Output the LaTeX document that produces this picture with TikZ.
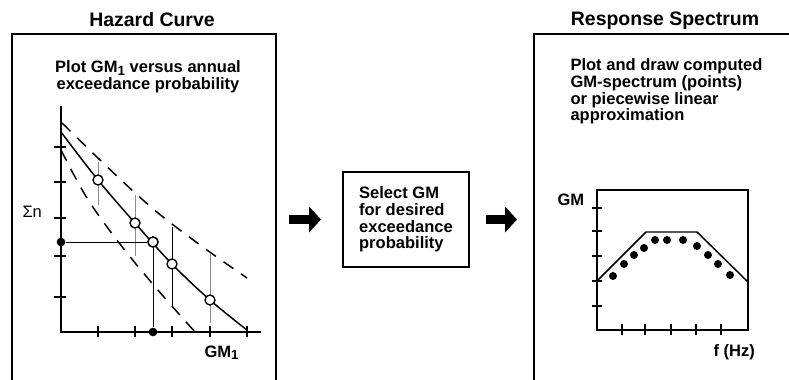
\documentclass[tikz,border=0pt]{standalone}
\usepackage{fontspec}
\setmainfont{Liberation Sans}
\usetikzlibrary{arrows.meta,fit}

\tikzset{every picture/.style={line width=0.75pt}}
\tikzset{
  panel/.style={draw, line width=1.5pt, inner sep=0pt},
  ttl/.style={font=\bfseries\fontsize{14.6}{16}\selectfont, inner sep=0pt, anchor=base},
  txt/.style={font=\bfseries\fontsize{12.4}{12.6}\selectfont, inner sep=0pt},
  axis/.style={line width=1.5pt},
  tick/.style={line width=1pt},
  hdash/.style={line width=1.1pt, dash pattern=on 9pt off 7pt},
  bar/.style={line width=0.75pt, draw=black!45},
  opn/.style={circle, draw, fill=white, line width=1pt, inner sep=0pt, minimum size=7.5pt},
  blk/.style={circle, fill=black, inner sep=0pt, minimum size=6.5pt},
  sdot/.style={circle, fill=black, inner sep=0pt, minimum size=6pt},
  fatarrow/.style={line width=6.75pt, -{Triangle[length=9pt,width=19pt]}},
}
\newcommand\lowsub[1]{\raisebox{-0.3ex}{\fontsize{10}{10}\selectfont#1}}

\begin{document}
\begin{tikzpicture}[x=0.75pt,y=0.75pt,yscale=-1,xscale=1]
\useasboundingbox (0,0) rectangle (789,379);
\clip (0,0) rectangle (789,379);

% panels
\node [panel, fit={(12,34) (276,420)}] (hz) {};
\node [panel, fit={(534,34) (820,420)}] (rs) {};
\node [ttl] (hztitle) at (152,26) {Hazard Curve};
\node [ttl] (rstitle) at (665,25) {Response Spectrum};

% hazard panel text
\node [txt, align=center, anchor=north] (hztext) at (148,60) {Plot GM\lowsub{1} versus annual\\exceedance probability};

%Axes
\draw [axis] (61,106) -- (61,332) -- (261,332) ;
\foreach \y in {147,182,218,256,297} \draw [tick] (54,\y) -- (66,\y) ;
\foreach \x in {98,135,172,210,247} \draw [tick] (\x,326) -- (\x,337) ;

%Error bars
\draw [bar] (98,162) -- (98,205) ;
\draw [bar] (135,195) -- (135,256) ;
\draw [bar, draw=black] (172,227) -- (172,307) ;
\draw [bar] (210,254) -- (210,323) ;

%Dashed bounds
\draw [hdash] plot [smooth, tension=0.6] coordinates {(62,123) (99,159) (133,191) (163,217) (207,250) (247,278)} ;
\draw [hdash] plot [smooth, tension=0.6] coordinates {(61,150) (87,198) (120,244) (157,289) (196,333)} ;

%Hazard curve
\draw [line width=1.1pt] plot [smooth, tension=0.6] coordinates {(61,132) (98,180) (135,223) (172,264) (210,300) (247,330)} ;

% points on the curve
\node [opn] (c1) at (98,180) {};
\node [opn] (c2) at (135,223) {};
\node [opn] (c3) at (153,242) {};
\node [opn] (c4) at (172,264) {};
\node [opn] (c5) at (210,300) {};
\node [blk] (ydot) at (61,242) {};
\node [blk] (xdot) at (153,332) {};
\draw (ydot) -- (c3) ;
\draw (c3) -- (xdot) ;
\node [opn] at (c3) {};

% Text Node
\node [anchor=base west, inner sep=0pt, font=\fontsize{12.4}{14}\selectfont] (sumn) at (22,217) {Σn};
\node [anchor=base west, inner sep=0pt, font=\bfseries\fontsize{12.4}{14}\selectfont] (gm1) at (204,357) {GM\lowsub{1}};

% selection box
\node [txt, draw, line width=1.5pt, align=left, minimum width=94.5pt, minimum height=71.25pt] (sel) at (406,219.5) {Select GM\\for desired\\exceedance\\probability};

% arrows between panels
\draw [fatarrow] ([xshift=9pt]hz.east |- sel.west) -- ([xshift=-15.75pt]sel.west) ;
\draw [fatarrow] ([xshift=12pt]sel.east) -- ([xshift=-12pt]rs.west |- sel.east) ;

% spectrum panel text
\node [txt, align=left, anchor=north west] (rstext) at (570,58) {Plot and draw computed\\GM-spectrum (points)\\or piecewise linear\\approximation};

% spectrum plot
\node [panel, fit={(597,190) (748,330)}] (spec) {};
\foreach \y in {208,231,256,281,306} \draw [tick] (592,\y) -- (602,\y) ;
\foreach \x in {622,645,671,696,721} \draw [tick] (\x,324) -- (\x,335) ;
\draw [line width=1.1pt] (597,281) -- (646,232) -- (697,232) -- (748,282) ;
\foreach \x/\y [count=\i] in {613/276, 624/264, 634/255, 644/248, 655/240, 667/240, 683/240, 697/246, 708/255, 718/264, 730/275}
  \node [sdot] (s\i) at (\x,\y) {};

\node [anchor=base west, inner sep=0pt, font=\bfseries\fontsize{12.4}{14}\selectfont] (gm) at (557,205) {GM};
\node [anchor=base west, inner sep=0pt, font=\bfseries\fontsize{12.4}{14}\selectfont] (fhz) at (713,356) {f (Hz)};
\end{tikzpicture}
\end{document}
